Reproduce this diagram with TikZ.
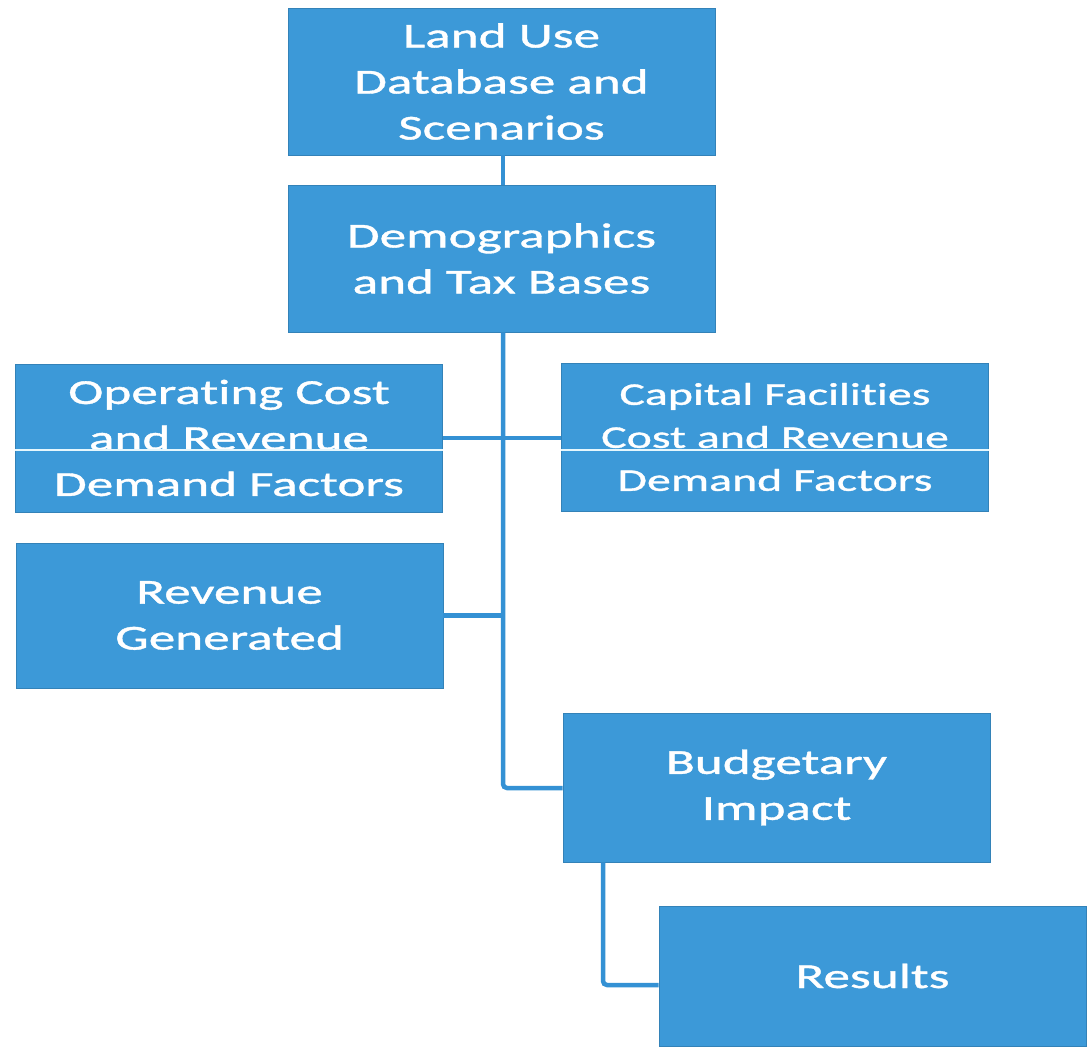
\documentclass[tikz,border=0pt]{standalone}
\usepackage{fontspec}
\setmainfont[FakeStretch=1.52, FakeBold=1.1, Ligatures=NoCommon]{Carlito}
\definecolor{boxblue}{RGB}{60,153,216}
\definecolor{lineblue}{RGB}{52,145,212}
\tikzset{
  box/.style={fill=boxblue, draw=boxblue!85!black, line width=0.8pt,
    minimum width=427pt, minimum height=147pt, inner sep=0pt,
    text=white, align=center, font=\fontsize{35}{46}\selectfont},
  smallbox/.style={box, font=\fontsize{31.5}{43}\selectfont},
  link/.style={draw=lineblue, line width=4.5pt, rounded corners=4pt},
  split/.style={draw=white!90!cyan, line width=2.2pt}
}
\begin{document}
\begin{tikzpicture}[x=1pt,y=-1pt]
  \useasboundingbox[fill=white] (0,0) rectangle (1089,1049);

  % boxes
  \node[box] (land) at (501.5,81.5) {Land Use\\Database and\\Scenarios};
  \node[box] (demo) at (501.5,258.5) {Demographics\\and Tax Bases};
  \node[box, minimum height=148pt] (oper) at (229,438) {Operating Cost\\and Revenue\\Demand Factors};
  \node[smallbox, minimum height=148pt] (capf) at (775,437) {Capital Facilities\\Cost and Revenue\\Demand Factors};
  \node[box, minimum height=145pt] (rev) at (229.5,615.5) {Revenue\\Generated};
  \node[box, minimum height=149pt] (budg) at (776.5,787.5) {Budgetary\\Impact};
  \node[box, minimum height=140pt] (res) at (872.5,976) {\raisebox{-8pt}{Results}};

  % split lines across the two factor boxes
  \draw[split] ([yshift=-12pt]oper.west) -- ([yshift=-12pt]oper.east);
  \draw[split] ([yshift=-13pt]capf.west) -- ([yshift=-13pt]capf.east);

  % connectors
  \coordinate (trunk) at (503,0);
  \coordinate (bend) at (503,788);
  \coordinate (cross) at (0,438);
  \draw[link] (land.south -| trunk) -- (demo.north -| trunk);
  \draw[link] (demo.south -| trunk) -- (bend) -- (bend -| budg.west);
  \draw[link] (oper.east |- cross) -- (capf.west |- cross);
  \draw[link] (rev.east) -- (rev.east -| trunk);
  \coordinate (drop) at (603,985);
  \draw[link] (budg.south -| drop) -- (drop) -- (drop -| res.west);
\end{tikzpicture}
\end{document}
